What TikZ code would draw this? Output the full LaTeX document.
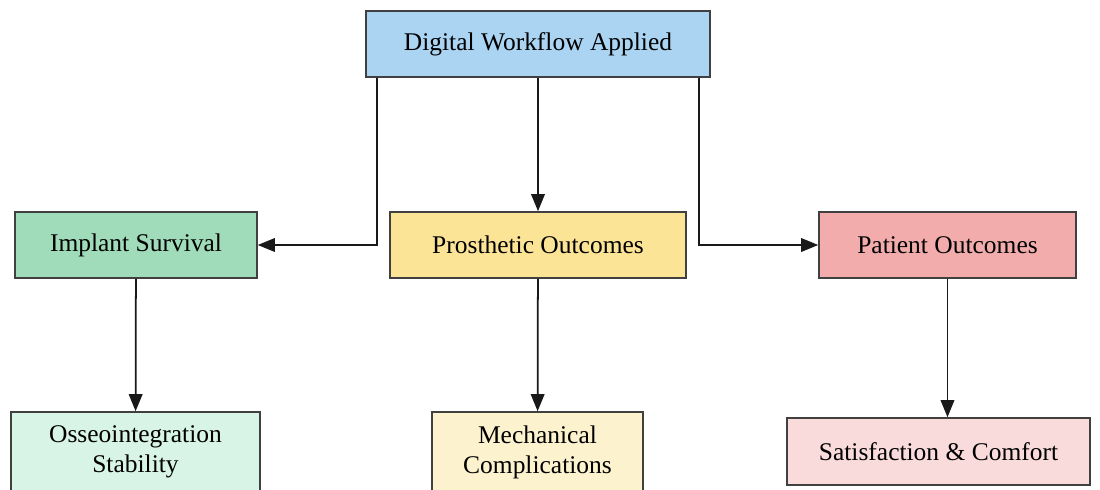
\documentclass[tikz,border=0pt]{standalone}
\usepackage{fontspec}
\setmainfont{Liberation Serif}
\usepackage{xcolor}
\usetikzlibrary{positioning, arrows.meta}

\definecolor{workflowblue}{RGB}{170,212,242}
\definecolor{survivalgreen}{RGB}{160,220,186}
\definecolor{osseomint}{RGB}{216,244,230}
\definecolor{prostyellow}{RGB}{252,228,150}
\definecolor{mechcream}{RGB}{252,243,206}
\definecolor{patientred}{RGB}{242,172,172}
\definecolor{satispink}{RGB}{250,219,219}

\begin{document}
\begin{tikzpicture}[
    x=0.02cm, y=-0.02cm,
    box/.style={draw=black!75, line width=0.9pt, minimum height=1.32cm,
                align=center, inner sep=2pt,
                font=\fontsize{14.5}{17}\selectfont},
    arr/.style={-{Triangle[length=0.34cm, width=0.27cm]}, line width=1pt, black!90},
]
\clip (0,0) rectangle (1100,490);

% Top level
\node[box, fill=workflowblue, minimum width=6.88cm] (workflow) at (538,44) {Digital Workflow Applied};

% Outcome groups
\node[box, fill=survivalgreen, minimum width=4.84cm] (survival) at (136,245) {Implant Survival};
\node[box, fill=prostyellow, minimum width=5.92cm] (prosthetic) at (538,245) {Prosthetic Outcomes};
\node[box, fill=patientred, minimum width=5.14cm] (patient) at (947.5,245) {Patient Outcomes};

% Detail measures
\node[box, fill=osseomint, minimum width=4.98cm, minimum height=1.6cm] (osseo) at (135.5,452) {Osseointegration\\Stability};
\node[box, fill=mechcream, minimum width=4.22cm, minimum height=1.6cm] (mechanical) at (537.5,452) {Mechanical\\Complications};
\node[box, fill=satispink, minimum width=6.06cm, minimum height=1.34cm] (satisfaction) at (938.5,451.5) {Satisfaction \& Comfort};

% Connectors
\draw[arr] ([xshift=0.24cm]workflow.south west) |- (survival.east);
\draw[arr] (workflow) -- (prosthetic);
\draw[arr] ([xshift=-0.24cm]workflow.south east) |- (patient.west);

\draw[arr] (survival) -- (osseo);
\draw[arr] (prosthetic) -- (mechanical);
\draw[arr] (patient.south) -- (patient.south |- satisfaction.north);

\end{tikzpicture}
\end{document}
